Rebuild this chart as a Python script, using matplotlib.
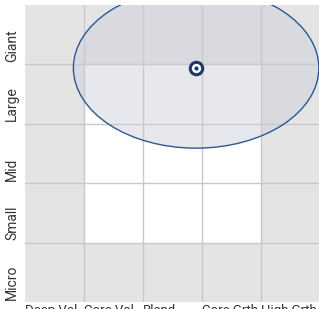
import matplotlib
matplotlib.use("Agg")
import matplotlib.pyplot as plt
from matplotlib.patches import Ellipse, Rectangle
from matplotlib import font_manager as fm
import numpy as np

style_labels = ["Deep Val", "Core Val", "Blend", "Core Grth", "High Grth"]
size_labels = ["Micro", "Small", "Mid", "Large", "Giant"]

# centroid position (style score, size score) in grid units
centroid_x = 2.9
centroid_y = 3.94
# ellipse half-extents (grid units)
ellipse_half_w = 2.08
ellipse_half_h = 1.35

names = {f.name for f in fm.fontManager.ttflist}
fam = "Liberation Sans Narrow" if "Liberation Sans Narrow" in names else "Roboto"

fig = plt.figure(figsize=(3.19, 3.09), dpi=100)
ax = fig.add_axes([25/319, 7/309, 295/319, 297/309])
ax.set_xlim(0, 5)
ax.set_ylim(0, 5)

n = len(style_labels)
for i in range(n):
    for j in range(n):
        outer = i in (0, n - 1) or j in (0, n - 1)
        ax.add_patch(Rectangle((i, j), 1, 1, facecolor="#e4e4e4" if outer else "white",
                               edgecolor="none", zorder=0))
for k in range(1, n):
    ax.axvline(k, color="#c8c8c8", lw=1, zorder=1)
    ax.axhline(k, color="#c8c8c8", lw=1, zorder=1)

ax.add_patch(Ellipse((centroid_x, centroid_y), 2 * ellipse_half_w, 2 * ellipse_half_h,
                     facecolor=(203/255, 206/255, 219/255, 0.45),
                     edgecolor="#2a5a93", lw=1.0, zorder=2))

ax.scatter([centroid_x], [centroid_y], s=125, color="#1f3864", zorder=3, linewidths=0)
ax.scatter([centroid_x], [centroid_y], s=45, color="white", zorder=4, linewidths=0)
ax.scatter([centroid_x], [centroid_y], s=9, color="#1f3864", zorder=5, linewidths=0)

ax.set_xticks([])
ax.set_yticks([])
for s in ax.spines.values():
    s.set_visible(False)

for i, lab in enumerate(style_labels):
    ax.text(i + 0.0, -0.03, lab, ha="left", va="top", fontsize=9.5, family=fam,
            color="#333333", clip_on=False)
for j, lab in enumerate(size_labels):
    ax.text(-0.22, j + 0.04, lab, ha="center", va="bottom", rotation=90, fontsize=10,
            family=fam, color="#333333", clip_on=False)

fig.savefig("out.png", dpi=100)
